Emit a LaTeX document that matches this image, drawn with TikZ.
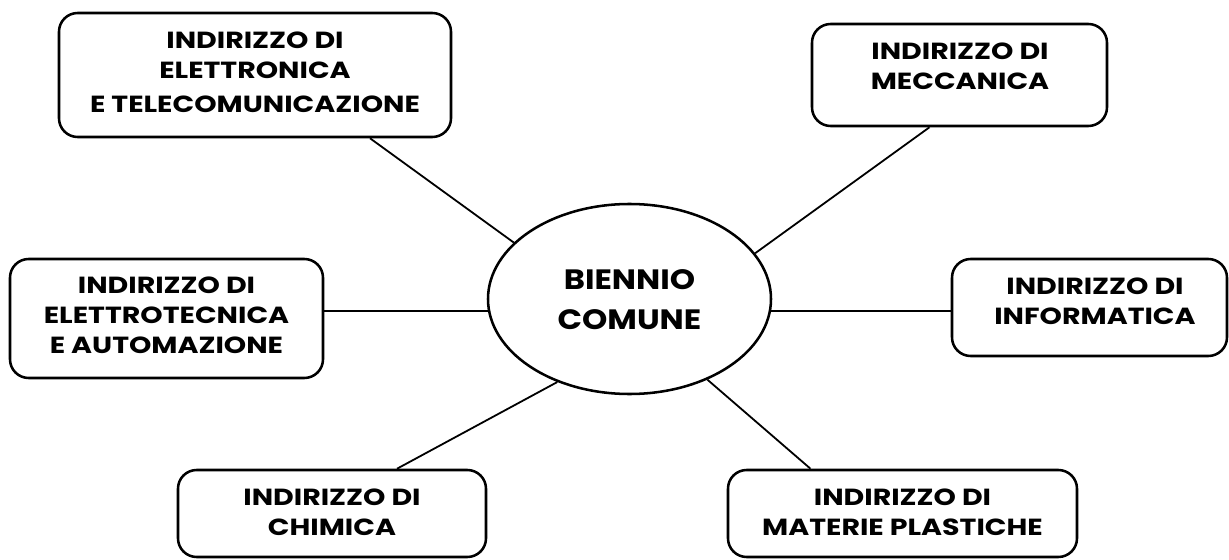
\documentclass[tikz,border=0pt]{standalone}
\usepackage{fontspec}
\setmainfont{Poppins}
\newfontfamily\boxfont[FakeStretch=1.22]{Poppins}
\newfontfamily\ellfont[FakeStretch=1.15]{Poppins}
\usetikzlibrary{shapes.geometric,calc}
\begin{document}
\begin{tikzpicture}[x=0.75pt,y=-0.75pt,
  box/.style={draw,line width=1.9pt,rounded corners=14pt,inner sep=0pt},
  lbl/.style={align=center,inner sep=0pt,font=\boxfont\fontsize{17.5}{22.5}\selectfont\bfseries},
  conn/.style={line width=1.35pt}]
\useasboundingbox (0,0) rectangle (1229,560);
% centre
\node[draw,ellipse,line width=1.9pt,inner sep=0pt,minimum width=283*0.75pt,minimum height=190*0.75pt] (ell) at (629.5,299) {};
\node[lbl,font=\ellfont\fontsize{21}{30}\selectfont\bfseries] (tell) at (629.5,300) {BIENNIO\\COMUNE};
% boxes
\node[box,minimum width=392*0.75pt,minimum height=124*0.75pt] (b1) at (255,75) {};
\node[lbl] (t1) at (255,72.5) {INDIRIZZO DI\\ELETTRONICA\\[3pt]E TELECOMUNICAZIONE};
\node[box,minimum width=295*0.75pt,minimum height=102*0.75pt] (b2) at (959.5,75) {};
\node[lbl] (t2) at (960,66) {INDIRIZZO DI\\MECCANICA};
\node[box,minimum width=313*0.75pt,minimum height=119*0.75pt] (b3) at (166.5,318.5) {};
\node[lbl] (t3) at (166.5,315.5) {INDIRIZZO DI\\ELETTROTECNICA\\E AUTOMAZIONE};
\node[box,minimum width=275*0.75pt,minimum height=97*0.75pt] (b4) at (1089.5,307.5) {};
\node[lbl] (t4) at (1095,301) {INDIRIZZO DI\\INFORMATICA};
\node[box,minimum width=308*0.75pt,minimum height=87*0.75pt] (b5) at (332,513.5) {};
\node[lbl] (t5) at (332,512) {INDIRIZZO DI\\CHIMICA};
\node[box,minimum width=349*0.75pt,minimum height=87*0.75pt] (b6) at (902.5,513.5) {};
\node[lbl] (t6) at (902.5,512) {INDIRIZZO DI\\MATERIE PLASTICHE};
% connectors
\draw[conn] ($(b1.south)+(115,0)$) -- (ell.154.8);
\draw[conn] ($(b2.south)+(-30,0)$) -- (ell.20.5);
\draw[conn] (ell.185.2) -- (ell.185.2 -| b3.east);
\draw[conn] (ell.-5.3) -- (ell.-5.3 -| b4.west);
\draw[conn] ($(b5.north)+(65,0)$) -- (ell.229);
\draw[conn] ($(b6.north)+(-92,0)$) -- (ell.-46.8);
\end{tikzpicture}
\end{document}
